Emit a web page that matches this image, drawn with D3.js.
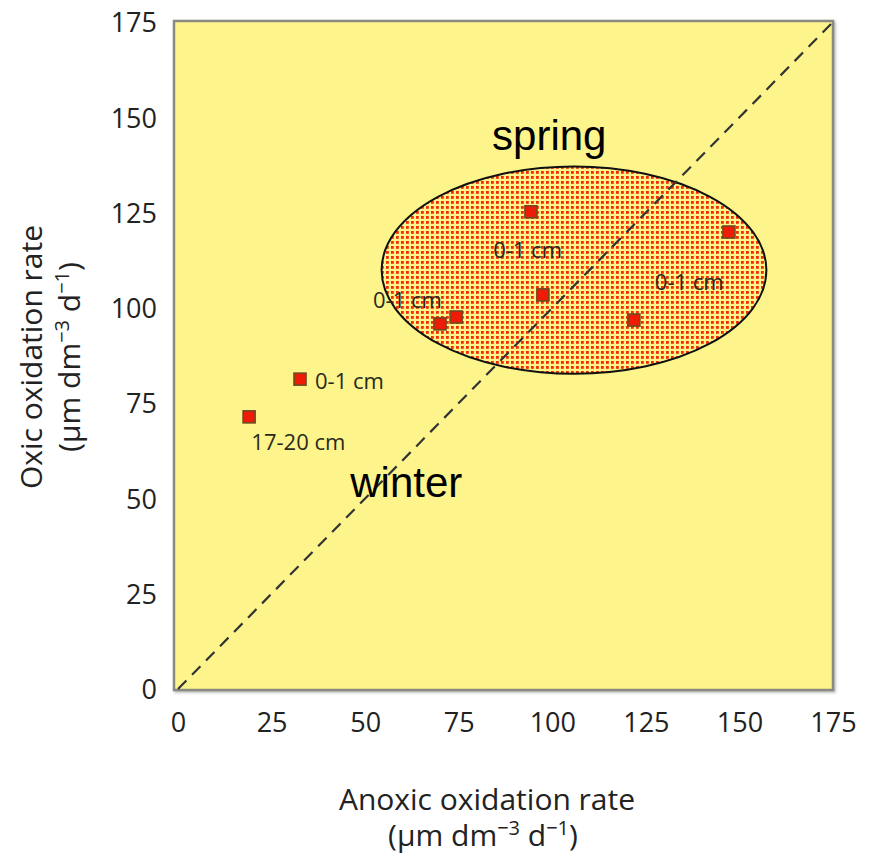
<!DOCTYPE html>
<html>
<head>
<meta charset="utf-8">
<script src="https://cdn.jsdelivr.net/npm/d3@7"></script>
<style>
  html, body { margin: 0; padding: 0; background: #fff; }
  svg { display: block; }
</style>
</head>
<body>
<svg id="chart" width="881" height="860"></svg>
<script>
// ---- data ----
const anoxic = [19.0, 32.6, 70.0, 74.3, 94.3, 97.5, 121.8, 147.2];
const oxic   = [71.4, 81.3, 95.8, 97.6, 125.2, 103.4, 96.8, 119.9];
const tickValues = [0, 25, 50, 75, 100, 125, 150, 175];
const pointLabels = [
  { text: "17-20 cm", x: 19.6, y: 62.7, anchor: "start" },
  { text: "0-1 cm", x: 36.6, y: 78.7, anchor: "start" },
  { text: "0-1 cm", x: 70.5, y: 100.0, anchor: "end" },
  { text: "0-1 cm", x: 93.4, y: 113.1, anchor: "middle" },
  { text: "0-1 cm", x: 127.4, y: 104.7, anchor: "start" }
];
const springEllipse = { cx: 105.8, cy: 109.9, rx: 51.4, ry: 27.2 };
const seasonLabels = [
  { text: "spring", x: 99.2, y: 141.5 },
  { text: "winter", x: 61.0, y: 50.3 }
];

// ---- layout ----
const svg = d3.select("#chart");
const plot = { left: 174, right: 833, top: 21, bottom: 690 };
const x = d3.scaleLinear().domain([0, 175]).range([178, 833]);
const y = d3.scaleLinear().domain([0, 175]).range([689, 22]);

const defs = svg.append("defs");
const pat = defs.append("pattern")
  .attr("id", "dots").attr("patternUnits", "userSpaceOnUse")
  .attr("width", 5).attr("height", 5);
pat.append("rect").attr("width", 5).attr("height", 5).attr("fill", "#fdf48c");
pat.append("rect").attr("x", 1).attr("y", 1).attr("width", 2.8).attr("height", 2.8).attr("fill", "#f52a06");

const shadow = defs.append("filter").attr("id", "shadow")
  .attr("x", "-5%").attr("y", "-5%").attr("width", "110%").attr("height", "110%");
shadow.append("feDropShadow").attr("dx", 1.5).attr("dy", 1.5).attr("stdDeviation", 1)
  .attr("flood-color", "#888").attr("flood-opacity", 0.6);

// plot background
svg.append("rect")
  .attr("x", plot.left).attr("y", plot.top)
  .attr("width", plot.right - plot.left).attr("height", plot.bottom - plot.top)
  .attr("fill", "#fdf48c").attr("stroke", "#8a8a80").attr("stroke-width", 2.5)
  .attr("filter", "url(#shadow)");

// ellipse
svg.append("ellipse")
  .attr("cx", x(springEllipse.cx)).attr("cy", y(springEllipse.cy))
  .attr("rx", x(springEllipse.rx) - x(0)).attr("ry", y(0) - y(springEllipse.ry))
  .attr("fill", "url(#dots)").attr("stroke", "#111").attr("stroke-width", 2);

// 1:1 line
svg.append("line")
  .attr("x1", x(0)).attr("y1", y(0)).attr("x2", x(175)).attr("y2", y(175))
  .attr("stroke", "#333").attr("stroke-width", 2.2).attr("stroke-dasharray", "12,8");

// points
const pts = anoxic.map((a, i) => ({ a, o: oxic[i] }));
const ms = 12;
svg.append("g").selectAll("rect").data(pts).join("rect")
  .attr("x", d => x(d.a) - ms / 2).attr("y", d => y(d.o) - ms / 2)
  .attr("width", ms).attr("height", ms)
  .attr("fill", "#ee1c06").attr("stroke", "#6e4a20").attr("stroke-width", 1.6);

// point labels
svg.append("g").selectAll("text").data(pointLabels).join("text")
  .attr("x", d => x(d.x)).attr("y", d => y(d.y))
  .attr("text-anchor", d => d.anchor)
  .attr("font-family", "'Open Sans', 'Noto Sans', sans-serif")
  .attr("font-size", 22).attr("fill", "#2a2a1c")
  .text(d => d.text);

// season labels
svg.append("g").selectAll("text").data(seasonLabels).join("text")
  .attr("x", d => x(d.x)).attr("y", d => y(d.y))
  .attr("text-anchor", "middle")
  .attr("font-family", "'Liberation Sans', Arial, sans-serif")
  .attr("font-size", 42).attr("fill", "#000")
  .text(d => d.text);

// axes (labels only, no ticks)
const tickFont = "'Open Sans', 'Noto Sans', sans-serif";
const xAxis = svg.append("g").attr("transform", `translate(0,732)`)
  .call(d3.axisBottom(x).tickValues(tickValues).tickSize(0).tickPadding(0));
xAxis.select(".domain").remove();
xAxis.selectAll("text").attr("font-family", tickFont).attr("font-size", 27)
  .attr("fill", "#222").attr("dy", "0").attr("y", 0);

const yAxis = svg.append("g").attr("transform", `translate(157,0)`)
  .call(d3.axisLeft(y).tickValues(tickValues).tickSize(0).tickPadding(0));
yAxis.select(".domain").remove();
yAxis.selectAll("text").attr("font-family", tickFont).attr("font-size", 27)
  .attr("fill", "#222").attr("dy", "0.36em");

// axis titles
const titleFont = "'Open Sans', 'Noto Sans', sans-serif";
function unitText(sel) {
  sel.append("tspan").text("(μm dm");
  sel.append("tspan").attr("dy", -11).attr("font-size", 20).text("−3");
  sel.append("tspan").attr("dy", 11).text(" d");
  sel.append("tspan").attr("dy", -11).attr("font-size", 20).text("−1");
  sel.append("tspan").attr("dy", 11).text(")");
}
svg.append("text").attr("x", 487).attr("y", 810).attr("text-anchor", "middle")
  .attr("font-family", titleFont).attr("font-size", 30).attr("fill", "#222")
  .text("Anoxic oxidation rate");
unitText(svg.append("text").attr("x", 483).attr("y", 846).attr("text-anchor", "middle")
  .attr("font-family", titleFont).attr("font-size", 30).attr("fill", "#222"));

const yt = svg.append("g").attr("transform", "translate(0,357) rotate(-90)");
yt.append("text").attr("x", 0).attr("y", 42).attr("text-anchor", "middle")
  .attr("font-family", titleFont).attr("font-size", 30).attr("fill", "#222")
  .text("Oxic oxidation rate");
unitText(yt.append("text").attr("x", 0).attr("y", 80).attr("text-anchor", "middle")
  .attr("font-family", titleFont).attr("font-size", 30).attr("fill", "#222"));
</script>
</body>
</html>
